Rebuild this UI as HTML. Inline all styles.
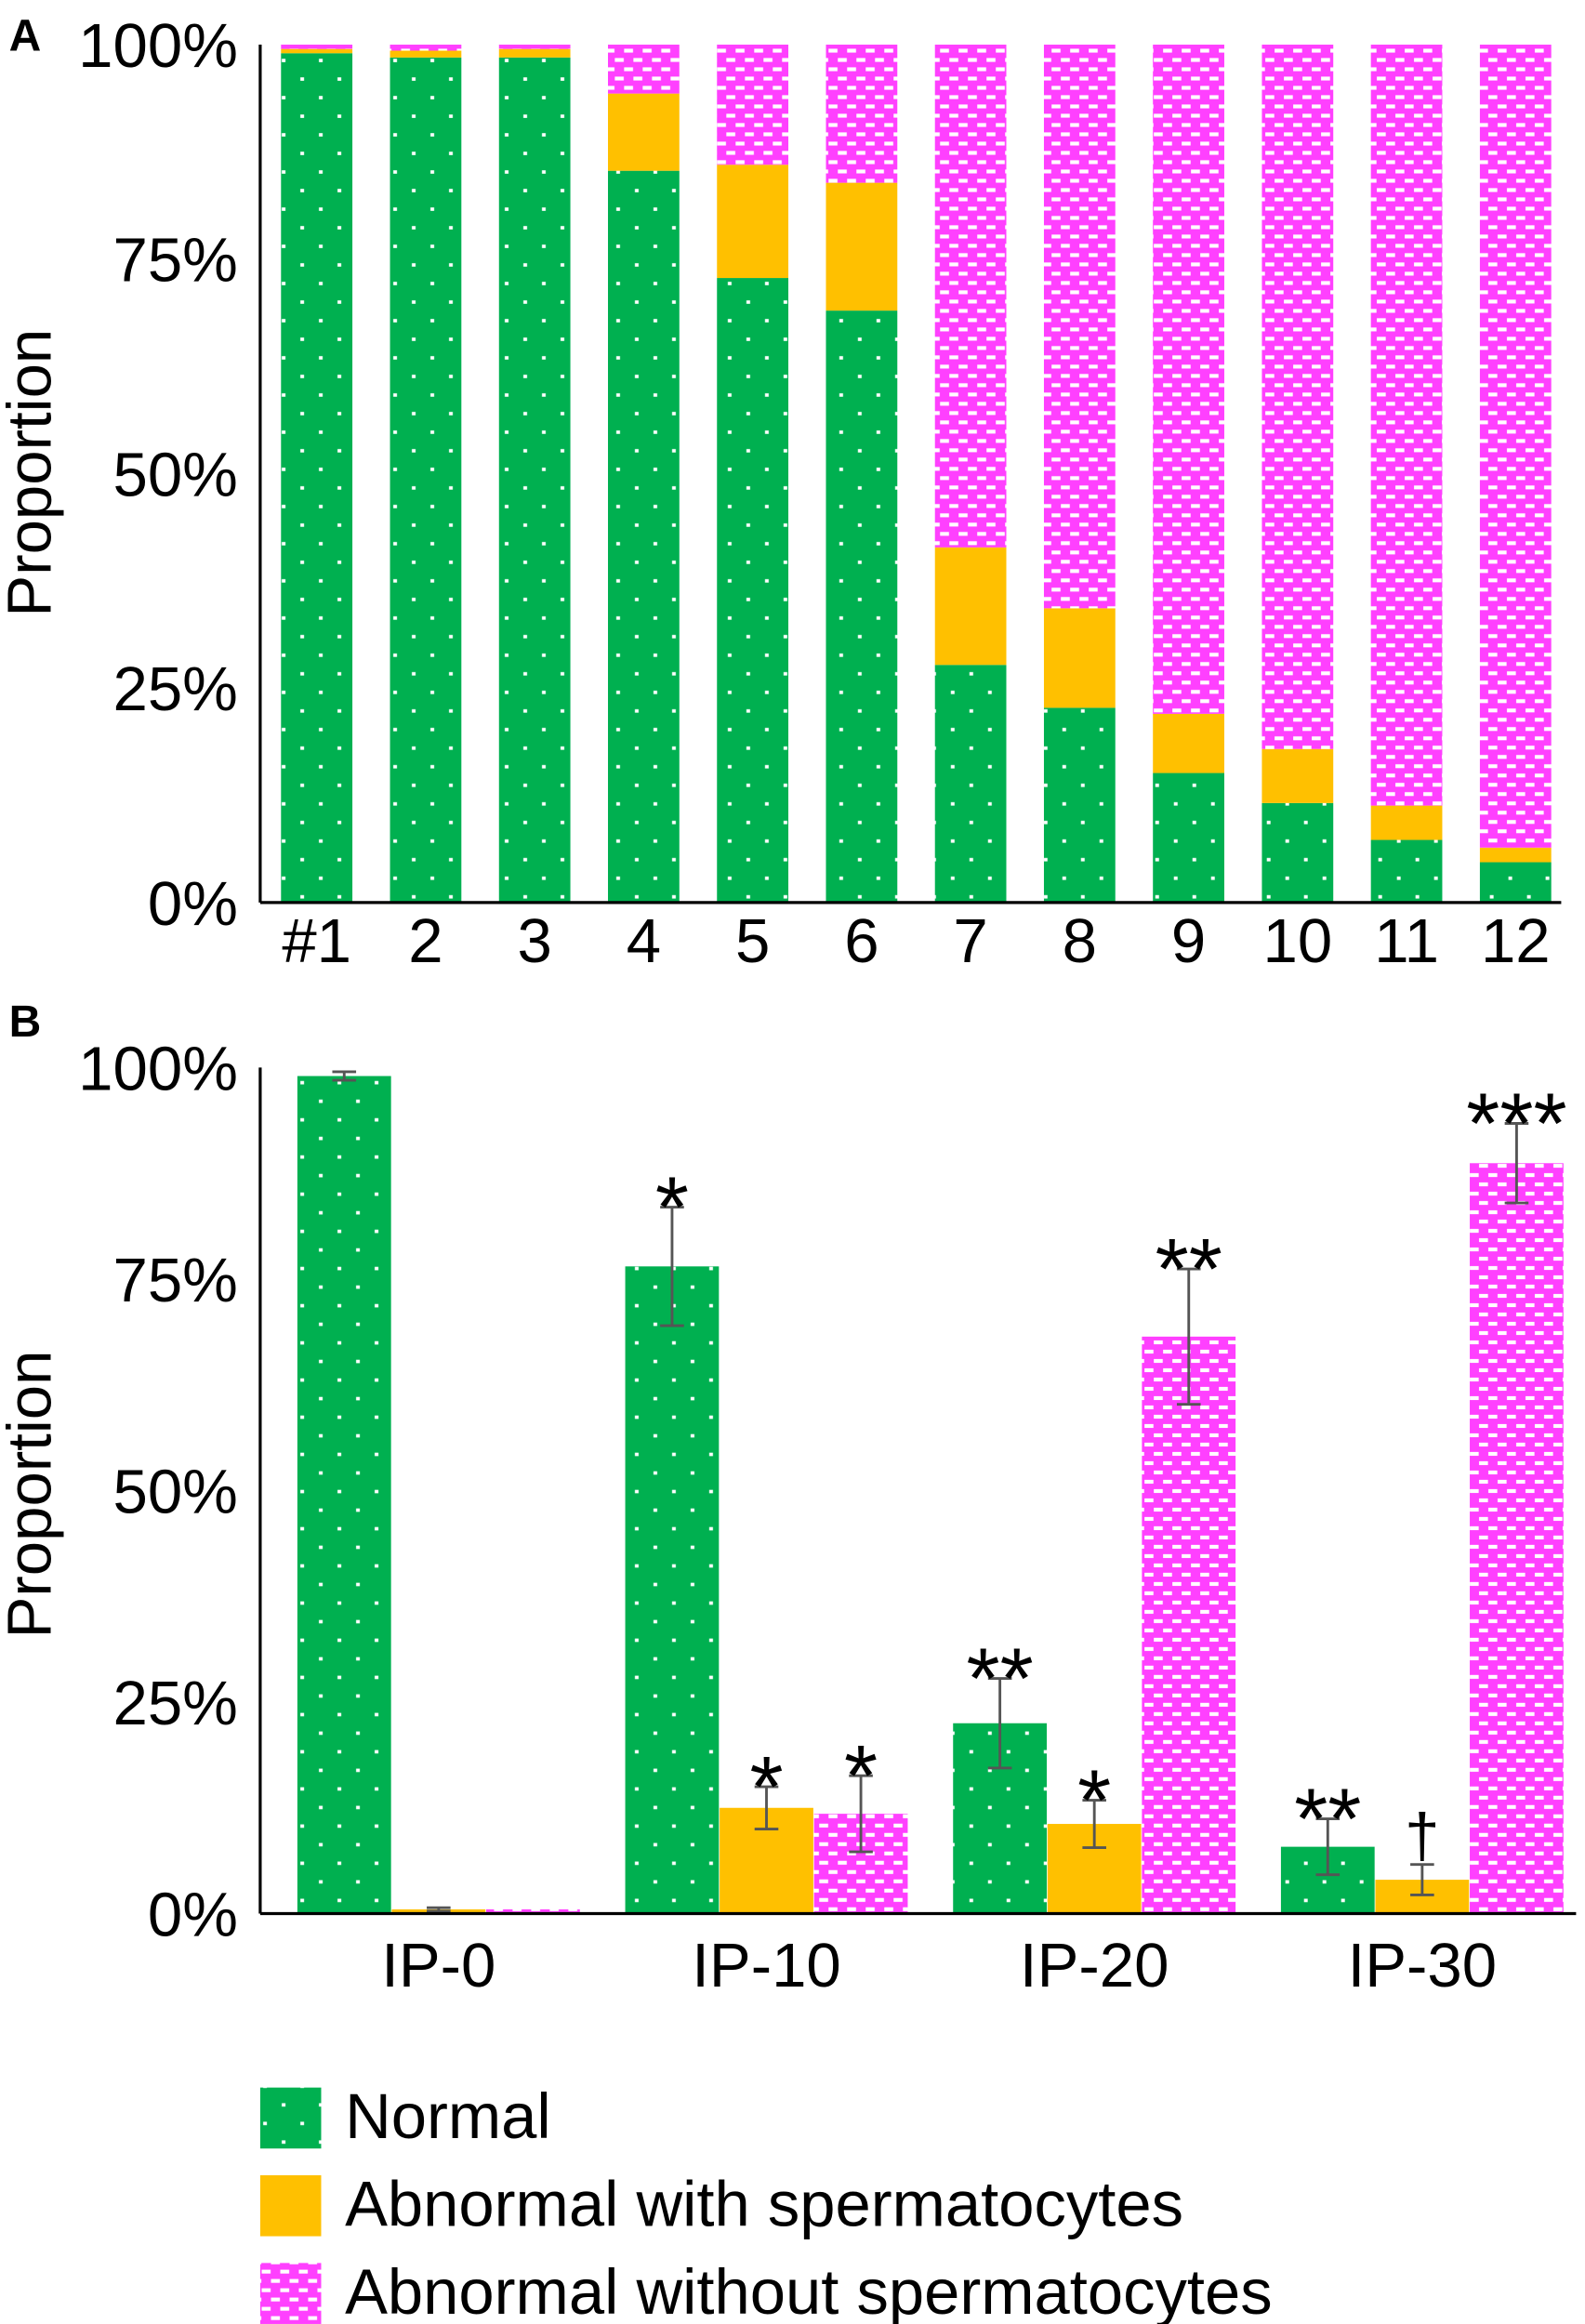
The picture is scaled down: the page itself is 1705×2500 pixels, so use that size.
<!DOCTYPE html>
<html><head><meta charset="utf-8"><style>html,body{margin:0;padding:0;background:#fff}svg{display:block}text{font-family:"Liberation Sans",Arial,sans-serif}</style></head>
<body>
<svg id="chart" width="1705" height="2500" viewBox="0 0 1066 1563" xmlns="http://www.w3.org/2000/svg">
<defs>
<pattern id="pg" width="25" height="25" patternUnits="userSpaceOnUse"><rect width="25" height="25" fill="#00B050"/><rect x="2" y="2" width="2.5" height="2.3" fill="#fff"/><rect x="14.5" y="14.5" width="2.5" height="2.3" fill="#fff"/></pattern>
<pattern id="pp" width="12.5" height="12.5" patternUnits="userSpaceOnUse"><rect width="12.5" height="12.5" fill="#FF40FF"/><rect x="1" y="1.5" width="6" height="2.6" fill="#fff"/><rect x="7.25" y="7.75" width="6" height="2.6" fill="#fff"/><rect x="-5.25" y="7.75" width="6" height="2.6" fill="#fff"/></pattern>
</defs>
<g id="pa"></g>
<g id="pb"></g>
<g id="lg"></g>
</svg>
<script>
const aCats=["#1","2","3","4","5","6","7","8","9","10","11","12"];
const aNormal=[99,98.5,98.5,85.3,72.8,69,27.7,22.7,15.1,11.6,7.3,4.7];
const aWith=[0.5,0.8,1,9,13.2,14.9,13.7,11.6,6.9,6.3,4,1.7];
const tickVals=[0,25,50,75,100];
const tickLabels=["0%","25%","50%","75%","100%"];
const bGroups=["IP-0","IP-10","IP-20","IP-30"];
const bNormal=[99,76.5,22.5,7.9];
const bNormalErr=[0.5,7,5.3,3.3];
const bWith=[0.5,12.5,10.6,4];
const bWithErr=[0.2,2.5,2.8,1.8];
const bWithout=[0.5,11.8,68.2,88.7];
const bWithoutErr=[0,4.5,8,4.7];
const bSigN=["","*","**","**"];
const bSigW=["","*","*","†"];
const bSigO=["","*","**","***"];
const legendLabels=["Normal","Abnormal with spermatocytes","Abnormal without spermatocytes"];
const NS="http://www.w3.org/2000/svg";
function mk(p,t,a,txt){const e=document.createElementNS(NS,t);for(const k in a)e.setAttribute(k,a[k]);if(txt!=null)e.textContent=txt;p.appendChild(e);return e;}
const fills=["url(#pg)","#FFC000","url(#pp)"];
const FS=42;
// Panel A
const pa=document.getElementById('pa');
const ya=v=>607-v*5.77;
const xa=i=>213+i*73.3;
let t=mk(pa,'text',{x:6,y:34,'font-size':30,'font-weight':'bold'},'A');


t=mk(pa,'text',{x:34,y:318,'font-size':FS,'text-anchor':'middle',transform:'rotate(-90 34 318)'},'Proportion');


tickVals.forEach((v,i)=>{const e=mk(pa,'text',{x:160,y:ya(v)+15,'font-size':FS,'text-anchor':'end'},tickLabels[i]);

});
aCats.forEach((c,i)=>{const x=xa(i)-24,w=48;const n=aNormal[i],wv=aWith[i];
const segs=[[0,n],[n,n+wv],[n+wv,100]];
segs.forEach((s,k)=>{const r=mk(pa,'rect',{x:x,y:ya(s[1]),width:w,height:ya(s[0])-ya(s[1]),fill:fills[k]});

});
const e=mk(pa,'text',{x:xa(i),y:647,'font-size':FS,'text-anchor':'middle'},c);

});
mk(pa,'line',{x1:175,y1:607,x2:1050,y2:607,stroke:'#000','stroke-width':2});
mk(pa,'line',{x1:175,y1:30,x2:175,y2:607,stroke:'#000','stroke-width':2});
// Panel B
const pb=document.getElementById('pb');
const yb=v=>1287-v*5.69;
const gx=i=>200+i*220.5;
t=mk(pb,'text',{x:6,y:697,'font-size':30,'font-weight':'bold'},'B');


t=mk(pb,'text',{x:34,y:1005,'font-size':FS,'text-anchor':'middle',transform:'rotate(-90 34 1005)'},'Proportion');


tickVals.forEach((v,i)=>{const e=mk(pb,'text',{x:160,y:yb(v)+15,'font-size':FS,'text-anchor':'end'},tickLabels[i]);

});
const series=[[bNormal,bNormalErr,bSigN],[bWith,bWithErr,bSigW],[bWithout,bWithoutErr,bSigO]];
bGroups.forEach((g,i)=>{series.forEach((s,k)=>{const v=s[0][i],er=s[1][i];const x=gx(i)+k*63.5,w=63;
const r=mk(pb,'rect',{x:x,y:yb(v),width:w,height:yb(0)-yb(v),fill:fills[k]});


const cx=x+w/2;
if(er>0){mk(pb,'line',{x1:cx,y1:yb(v+er),x2:cx,y2:yb(v-er),stroke:'#555','stroke-width':1.8});
mk(pb,'line',{x1:cx-8,y1:yb(v+er),x2:cx+8,y2:yb(v+er),stroke:'#555','stroke-width':1.8});
mk(pb,'line',{x1:cx-8,y1:yb(v-er),x2:cx+8,y2:yb(v-er),stroke:'#555','stroke-width':1.8});}
const sg=s[2][i];if(sg){const e=mk(pb,'text',{x:cx,y:yb(v+er)+(sg==='†'?-5:20),'font-size':sg==='†'?42:58,'text-anchor':'middle'},sg);

}});
const e=mk(pb,'text',{x:gx(i)+95,y:1336,'font-size':FS,'text-anchor':'middle'},g);

});
mk(pb,'line',{x1:175,y1:1287,x2:1060,y2:1287,stroke:'#000','stroke-width':2});
mk(pb,'line',{x1:175,y1:718,x2:175,y2:1287,stroke:'#000','stroke-width':2});
// Legend
const lg=document.getElementById('lg');
legendLabels.forEach((l,i)=>{const y=1404+i*59;const r=mk(lg,'rect',{x:175,y:y,width:41,height:41,fill:fills[i]});


const e=mk(lg,'text',{x:232,y:y+34,'font-size':43},l);

});
</script>
</body></html>
